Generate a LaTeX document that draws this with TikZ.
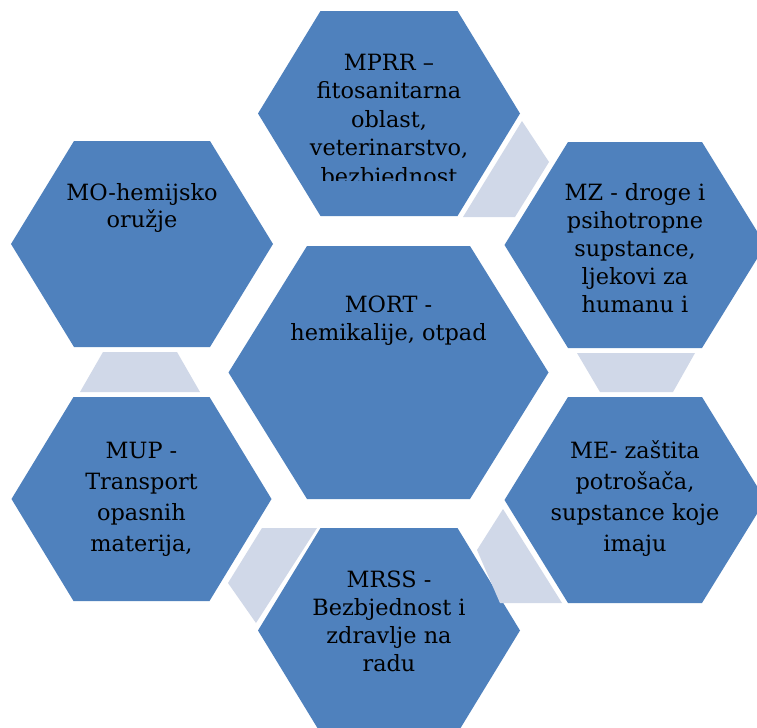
\documentclass[tikz,border=0pt]{standalone}
\usepackage{fontspec}
\setmainfont{DejaVu Serif}
\definecolor{hexblue}{RGB}{79,129,189}
\definecolor{traplight}{RGB}{208,216,232}
\newcommand{\hexat}[5]{%
  \fill[hexfill] (#1-#3,#2) -- (#1-#4,#2-#5) -- (#1+#4,#2-#5) -- (#1+#3,#2)
    -- (#1+#4,#2+#5) -- (#1-#4,#2+#5) -- cycle;}
\newcommand{\hextext}[2]{\parbox[t]{230pt}{\centering\fontsize{16.8}{#1}\selectfont #2}}
\begin{document}
\begin{tikzpicture}[x=0.75pt,y=-0.75pt,
  hexfill/.style={fill=hexblue},
  trapfill/.style={fill=traplight},
  lbl/.style={inner sep=0pt,outer sep=0pt,text=black,anchor=base}]
\useasboundingbox (0,0) rectangle (757,728);
\clip (0,0) rectangle (757,728);
\fill[white] (0,0) rectangle (757,728);
% hexagons
\hexat{389}{113.5}{131}{68.5}{102.5}
\hexat{635}{245}{130.5}{67}{103}
\hexat{635}{500}{130.5}{67}{103}
\hexat{389}{630.5}{131}{68.5}{102.5}
\hexat{141.5}{499}{130}{68}{102}
\hexat{142}{244}{131}{68}{103}
\hexat{388.5}{372.5}{160}{81.5}{126.5}
% connectors (trapezoids)
\fill[trapfill] (463,217) -- (522,121) -- (549,162) -- (515,217) -- cycle;
\fill[trapfill] (577,353) -- (695,353) -- (673,392) -- (600,392) -- cycle;
\fill[trapfill] (503,509) -- (562,603) -- (500,603) -- (477,550) -- cycle;
\fill[trapfill] (262,528) -- (317,528) -- (256,623) -- (228,583) -- cycle;
\fill[trapfill] (103,352) -- (177,352) -- (200,392) -- (80,392) -- cycle;
% texts
\begin{scope}
\clip (258,0) rectangle (520,180);
\node[lbl] (mprr) at (389,70) {\hextext{21.4pt}{MPRR –\\fitosanitarna\\oblast,\\veterinarstvo,\\bezbjednost}};
\end{scope}
\node[lbl] (mz) at (635,200) {\hextext{21pt}{MZ - droge i\\psihotropne\\supstance,\\ljekovi za\\humanu i}};
\node[lbl] (me) at (635,458) {\hextext{23.25pt}{ME- zaštita\\potrošača,\\supstance koje\\imaju}};
\node[lbl] (mrss) at (389,587) {\hextext{21pt}{MRSS -\\Bezbjednost i\\zdravlje na\\radu}};
\node[lbl] (mup) at (141.5,458) {\hextext{23.25pt}{MUP -\\Transport\\opasnih\\materija,}};
\node[lbl] (mo) at (142,200) {\hextext{20.5pt}{MO-hemijsko\\oružje}};
\node[lbl] (mort) at (388.5,312) {\hextext{21pt}{MORT -\\hemikalije, otpad}};
\end{tikzpicture}
\end{document}
